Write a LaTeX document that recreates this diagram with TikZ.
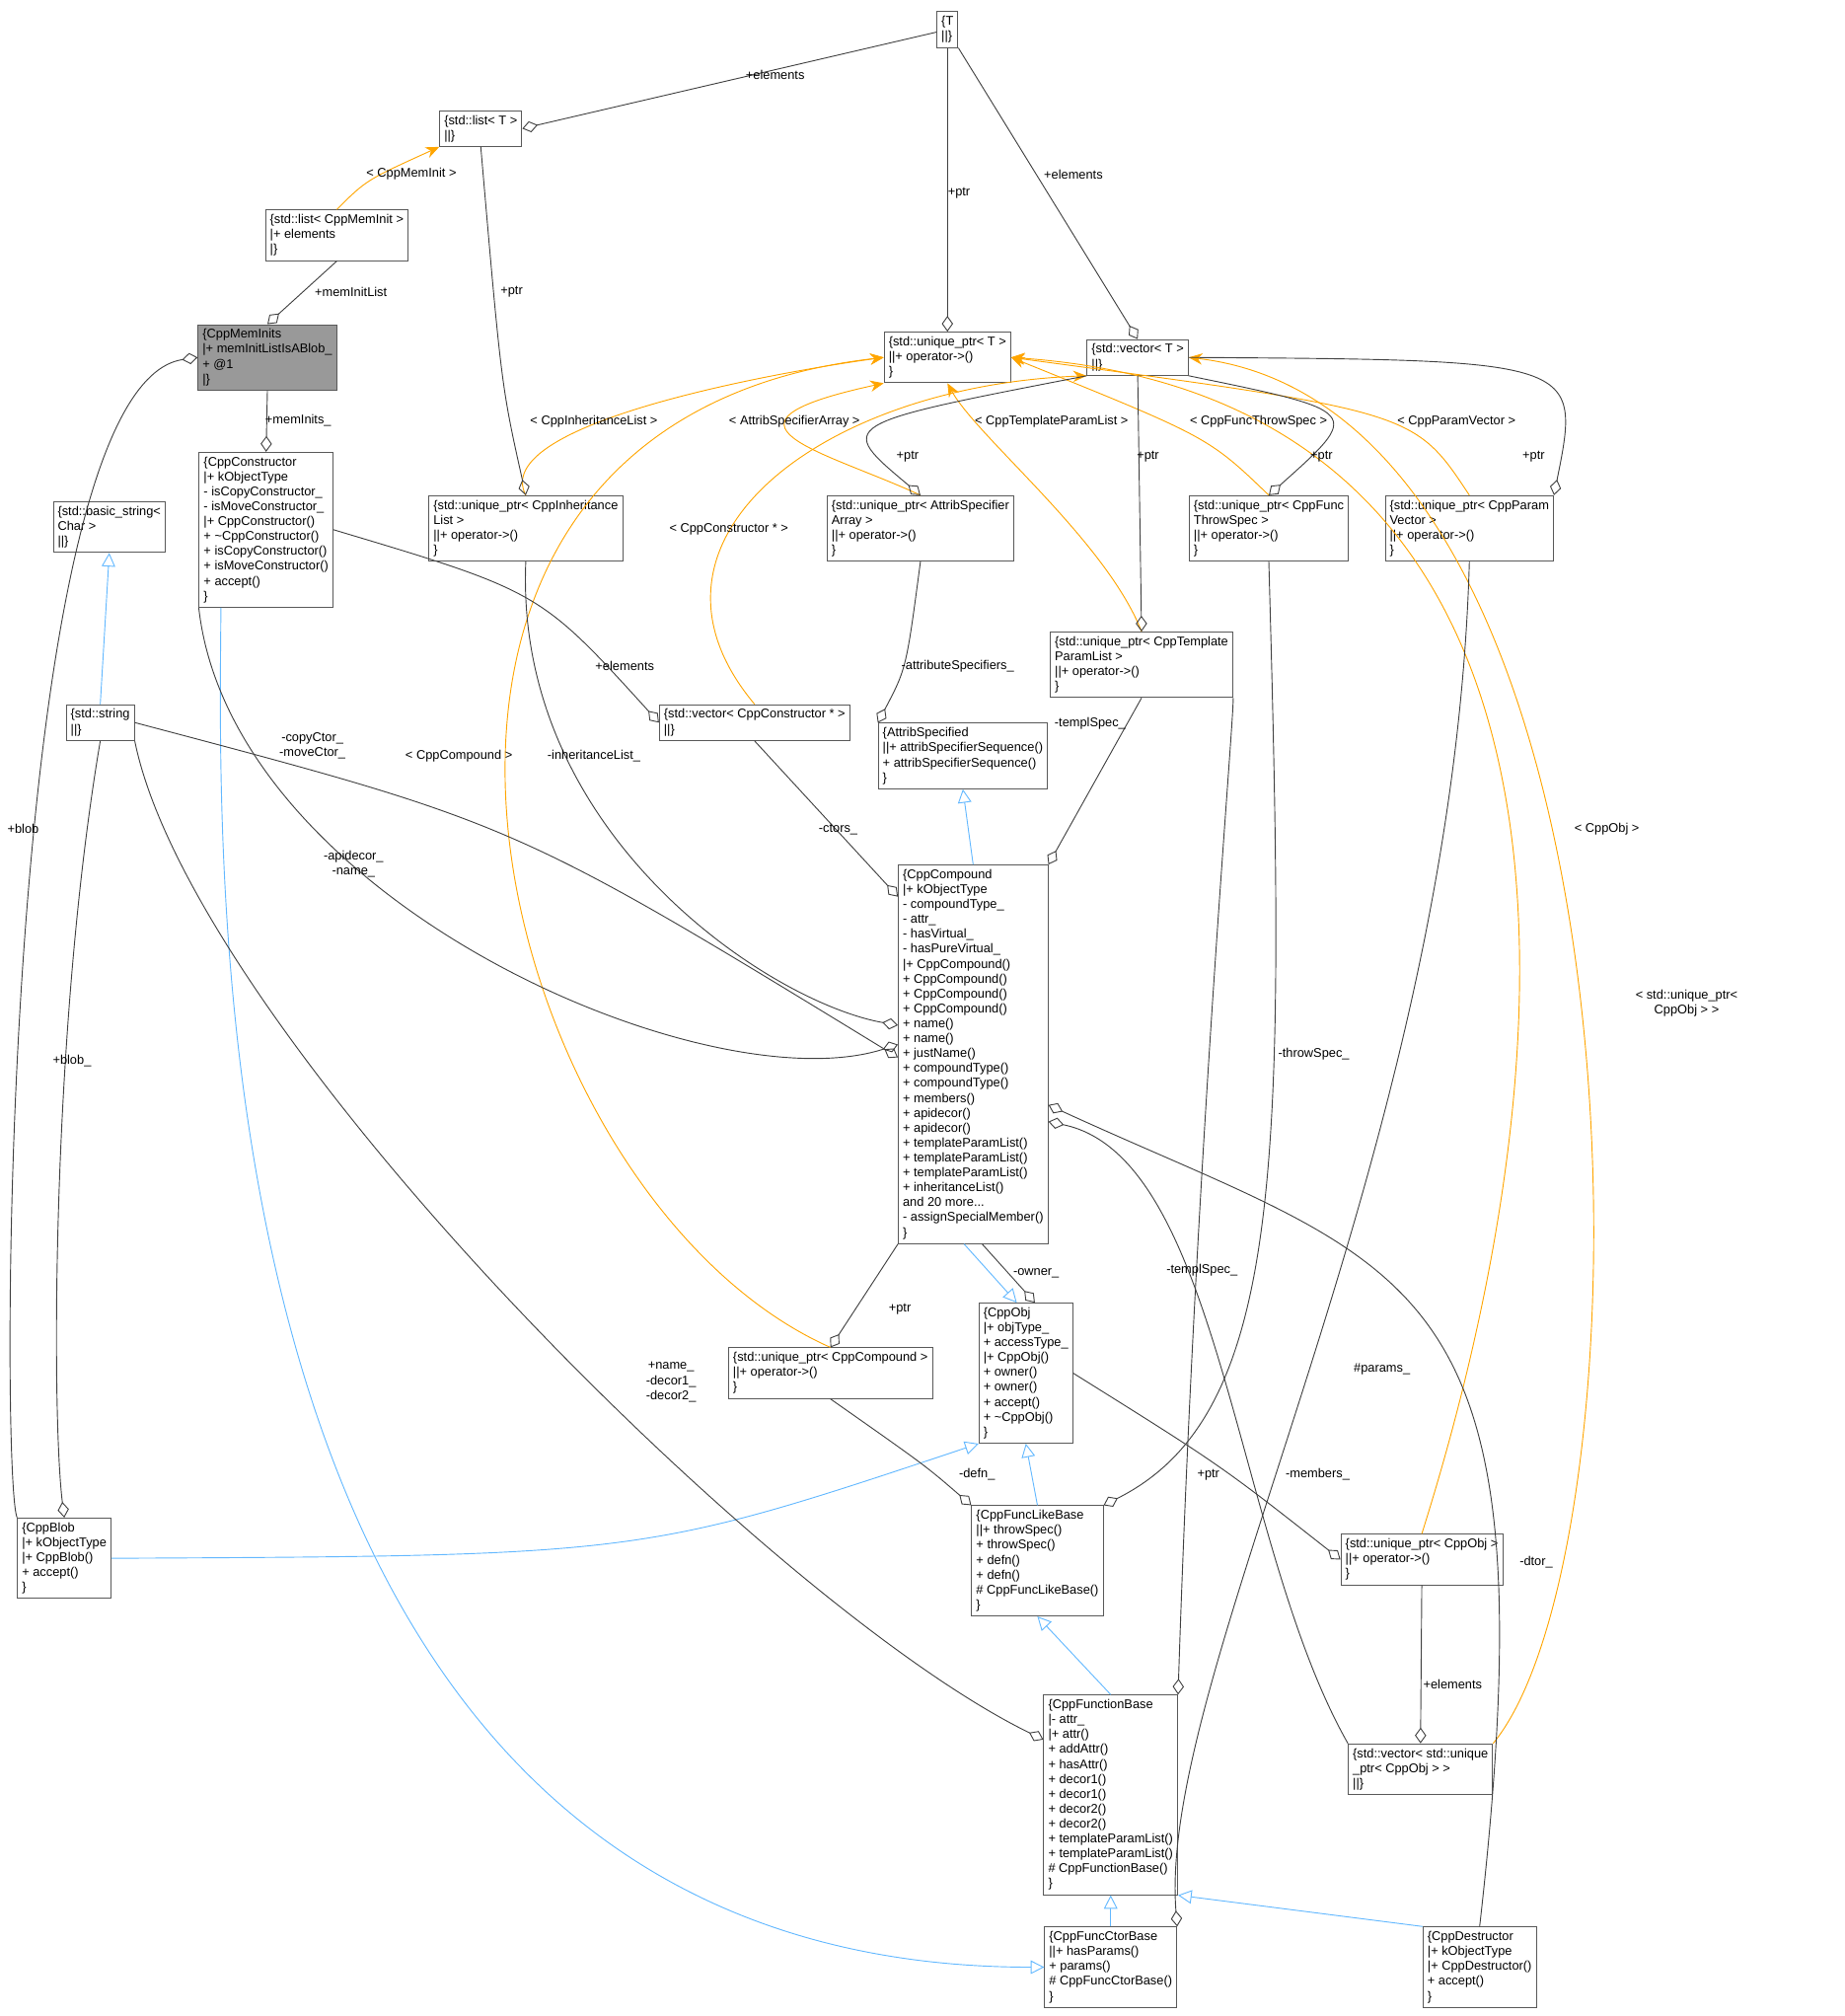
\documentclass[tikz,border=0pt]{standalone}
\usepackage{fontspec}
\setmainfont{Liberation Sans}
\usetikzlibrary{arrows.meta,calc}
\definecolor{tmplorange}{RGB}{255,165,0}
\definecolor{inhblue}{RGB}{99,184,255}
\tikzset{
  cls/.style={draw=black!65, fill=white, align=left, inner sep=2pt, font=\fontsize{5.6}{6.6}\selectfont},
  lbl/.style={font=\fontsize{5.6}{6.6}\selectfont, align=center, inner sep=1pt},
  agg/.style={draw=black!75, -{Diamond[open,length=7pt,width=5pt]}},
  tmpl/.style={draw=tmplorange, -{Stealth[length=6pt,width=5pt]}},
  inh/.style={draw=inhblue, -{Triangle[open,length=6pt,width=6pt]}}
}
\begin{document}
\begin{tikzpicture}[x=0.02cm,y=-0.02cm]
\useasboundingbox (0,0) rectangle (1435,1568);
% classes
\node[cls] (T) at (737,23) {\{T\\\textbar\textbar\}};
\node[cls] (lstT) at (374,100) {\{std::list< T >\\\textbar\textbar\}};
\node[cls] (lstMI) at (262,183) {\{std::list< CppMemInit >\\\textbar+ elements\\\textbar\}};
\node[cls, fill=black!40] (mis) at (208,278) {\{CppMemInits\\\textbar+ memInitListIsABlob\_\\+ @1\\\textbar\}};
\node[cls] (upT) at (737,278) {\{std::unique\_ptr< T >\\\textbar\textbar+ operator->()\\\}};
\node[cls] (vecT) at (885,278) {\{std::vector< T >\\\textbar\textbar\}};
\node[cls] (ctor) at (207,412) {\{CppConstructor\\\textbar+ kObjectType\\- isCopyConstructor\_\\- isMoveConstructor\_\\\textbar+ CppConstructor()\\+ \textasciitilde CppConstructor()\\+ isCopyConstructor()\\+ isMoveConstructor()\\+ accept()\\\}};
\node[cls] (bstr) at (85,410) {\{std::basic\_string<\\Char >\\\textbar\textbar\}};
\node[cls] (upIL) at (409,411) {\{std::unique\_ptr< CppInheritance\\List >\\\textbar\textbar+ operator->()\\\}};
\node[cls] (upAS) at (716,411) {\{std::unique\_ptr< AttribSpecifier\\Array >\\\textbar\textbar+ operator->()\\\}};
\node[cls] (upFT) at (987,411) {\{std::unique\_ptr< CppFunc\\ThrowSpec >\\\textbar\textbar+ operator->()\\\}};
\node[cls] (upPV) at (1143,411) {\{std::unique\_ptr< CppParam\\Vector >\\\textbar\textbar+ operator->()\\\}};
\node[cls] (upTPL) at (888,517) {\{std::unique\_ptr< CppTemplate\\ParamList >\\\textbar\textbar+ operator->()\\\}};
\node[cls] (str) at (78,562) {\{std::string\\\textbar\textbar\}};
\node[cls] (vecCC) at (587,562) {\{std::vector< CppConstructor * >\\\textbar\textbar\}};
\node[cls] (attr) at (749,588) {\{AttribSpecified\\\textbar\textbar+ attribSpecifierSequence()\\+ attribSpecifierSequence()\\\}};
\node[cls] (cmp) at (757,820) {\{CppCompound\\\textbar+ kObjectType\\- compoundType\_\\- attr\_\\- hasVirtual\_\\- hasPureVirtual\_\\\textbar+ CppCompound()\\+ CppCompound()\\+ CppCompound()\\+ CppCompound()\\+ name()\\+ name()\\+ justName()\\+ compoundType()\\+ compoundType()\\+ members()\\+ apidecor()\\+ apidecor()\\+ templateParamList()\\+ templateParamList()\\+ templateParamList()\\+ inheritanceList()\\and 20 more...\\- assignSpecialMember()\\\}};
\node[cls] (obj) at (798,1068) {\{CppObj\\\textbar+ objType\_\\+ accessType\_\\\textbar+ CppObj()\\+ owner()\\+ owner()\\+ accept()\\+ \textasciitilde CppObj()\\\}};
\node[cls] (upCmp) at (646,1068) {\{std::unique\_ptr< CppCompound >\\\textbar\textbar+ operator->()\\\}};
\node[cls] (blob) at (50,1212) {\{CppBlob\\\textbar+ kObjectType\\\textbar+ CppBlob()\\+ accept()\\\}};
\node[cls] (clb) at (807,1214) {\{CppFuncLikeBase\\\textbar\textbar+ throwSpec()\\+ throwSpec()\\+ defn()\\+ defn()\\\# CppFuncLikeBase()\\\}};
\node[cls] (upObj) at (1106,1213) {\{std::unique\_ptr< CppObj >\\\textbar\textbar+ operator->()\\\}};
\node[cls] (cfb) at (864,1396) {\{CppFunctionBase\\\textbar- attr\_\\\textbar+ attr()\\+ addAttr()\\+ hasAttr()\\+ decor1()\\+ decor1()\\+ decor2()\\+ decor2()\\+ templateParamList()\\+ templateParamList()\\\# CppFunctionBase()\\\}};
\node[cls] (vecUO) at (1105,1376) {\{std::vector< std::unique\\\_ptr< CppObj > >\\\textbar\textbar\}};
\node[cls] (cfc) at (864,1530) {\{CppFuncCtorBase\\\textbar\textbar+ hasParams()\\+ params()\\\# CppFuncCtorBase()\\\}};
\node[cls] (dtor) at (1151,1530) {\{CppDestructor\\\textbar+ kObjectType\\\textbar+ CppDestructor()\\+ accept()\\\}};
% inheritance
\draw[inh] (str.north) -- (bstr.south);
\draw[inh] (cmp.north) -- (attr.south);
\draw[inh] ([xshift=-4pt]cmp.south) -- ([xshift=-4pt]obj.north);
\draw[inh] (blob.east) .. controls (500,1210) .. (obj.south west);
\draw[inh] (clb.north) -- (obj.south);
\draw[inh] (cfb.north) -- (clb.south);
\draw[inh] (cfc.north) -- (cfb.south);
\draw[inh] (dtor.north west) -- (cfb.south east);
\draw[inh] ([xshift=-20pt]ctor.south) .. controls (170,700) and (150,1530) .. (cfc.west);
% templates
\draw[tmpl] (lstMI.north) .. controls (285,140) .. (lstT.south west);
\draw[tmpl] (upIL.north) .. controls (380,330) and (600,290) .. (upT.west);
\draw[tmpl] (upAS.north) .. controls (640,350) and (540,330) .. (upT.south west);
\draw[tmpl] (upTPL.north) .. controls (860,420) and (760,340) .. (upT.south);
\draw[tmpl] (upFT.north) .. controls (940,340) .. (upT.east);
\draw[tmpl] (upPV.north) .. controls (1100,320) .. (upT.east);
\draw[tmpl] (vecCC.north) .. controls (480,420) and (640,300) .. (vecT.south west);
\draw[tmpl] (upCmp.north) .. controls (380,930) and (230,330) .. (upT.west);
\draw[tmpl] (upObj.north) .. controls (1230,800) and (1250,310) .. (upT.east);
\draw[tmpl] (vecUO.north east) .. controls (1290,1200) and (1290,320) .. (vecT.east);
% members
\draw[agg] (T) -- (lstT.east);
\draw[agg] (T) -- (upT.north);
\draw[agg] (T.south east) -- (vecT.north);
\draw[agg] (lstMI.south) -- (mis.north);
\draw[agg] (lstT.south) .. controls (390,300) .. (upIL.north);
\draw[agg] (vecT.south west) .. controls (650,330) .. (upAS.north);
\draw[agg] (vecT.south) -- (upTPL.north);
\draw[agg] (vecT.south east) .. controls (1060,320) .. (upFT.north);
\draw[agg] (vecT.east) .. controls (1230,280) .. (upPV.north east);
\draw[agg] (mis.south) -- (ctor.north);
\draw[agg] (blob.north west) .. controls (0,1150) and (0,300) .. (mis.west);
\draw[agg] (str.south) .. controls (40,800) and (40,1100) .. (blob.north);
\draw[agg] (str.east) .. controls (400,640) .. ($(cmp.north west)+(0,150)$);
\draw[agg] (str.south east) .. controls (150,800) and (600,1250) .. ($(cfb.north west)+(0,35)$);
\draw[agg] (ctor.east) .. controls (420,460) .. (vecCC.west);
\draw[agg] (ctor.south west) .. controls (180,700) and (550,860) .. ($(cmp.north west)+(0,140)$);
\draw[agg] (upIL.south) .. controls (400,650) and (600,780) .. ($(cmp.north west)+(0,125)$);
\draw[agg] (upAS.south) .. controls (705,520) .. (attr.north west);
\draw[agg] (vecCC.south) -- ($(cmp.north west)+(0,25)$);
\draw[agg] (upTPL.south) -- (cmp.north east);
\draw[agg] (upTPL.south east) .. controls (960,560) and (930,900) .. (cfb.north east);
\draw[agg] (upFT.south) .. controls (1000,900) and (1000,1100) .. (clb.north east);
\draw[agg] (upPV.south) .. controls (1130,900) and (900,1300) .. (cfc.north east);
\draw[agg] (cmp.south west) -- (upCmp.north);
\draw[agg] ([xshift=4pt]cmp.south) -- ([xshift=4pt]obj.north);
\draw[agg] (obj.east) .. controls (950,1140) .. (upObj.west);
\draw[agg] (upCmp.south) .. controls (720,1140) .. (clb.north west);
\draw[agg] (upObj.south) -- (vecUO.north);
\draw[agg] (vecUO.north west) .. controls (960,1200) and (950,900) .. ($(cmp.north east)+(0,200)$);
\draw[agg] (dtor.north) .. controls (1210,980) and (1100,990) .. ($(cmp.north east)+(0,187)$);
% labels
\node[lbl] (l1) at (603,58) {+elements};
\node[lbl] (l2) at (746,150) {+ptr};
\node[lbl] (l3) at (835,136) {+elements};
\node[lbl] (l4) at (273,227) {+memInitList};
\node[lbl] (l5) at (398,227) {+ptr};
\node[lbl] (l6) at (320,135) {< CppMemInit >};
\node[lbl] (l7) at (462,328) {< CppInheritanceList >};
\node[lbl] (l8) at (618,328) {< AttribSpecifierArray >};
\node[lbl] (l9) at (706,355) {+ptr};
\node[lbl] (l10) at (818,328) {< CppTemplateParamList >};
\node[lbl] (l11) at (893,355) {+ptr};
\node[lbl] (l12) at (979,328) {< CppFuncThrowSpec >};
\node[lbl] (l13) at (1028,355) {+ptr};
\node[lbl] (l14) at (1133,328) {< CppParamVector >};
\node[lbl] (l15) at (1193,355) {+ptr};
\node[lbl] (l16) at (232,327) {+memInits\_};
\node[lbl] (l17) at (567,412) {< CppConstructor * >};
\node[lbl] (l18) at (486,518) {+elements};
\node[lbl] (l19) at (745,518) {-attributeSpecifiers\_};
\node[lbl] (l20) at (848,563) {-templSpec\_};
\node[lbl] (l21) at (243,580) {-copyCtor\_\\-moveCtor\_};
\node[lbl] (l22) at (357,588) {< CppCompound >};
\node[lbl] (l23) at (462,588) {-inheritanceList\_};
\node[lbl] (l24) at (275,672) {-apidecor\_\\-name\_};
\node[lbl] (l25) at (652,645) {-ctors\_};
\node[lbl] (l26) at (18,645) {+blob};
\node[lbl] (l27) at (1250,645) {< CppObj >};
\node[lbl] (l28) at (1312,780) {< std::unique\_ptr<\\CppObj > >};
\node[lbl] (l29) at (1022,820) {-throwSpec\_};
\node[lbl] (l30) at (56,825) {+blob\_};
\node[lbl] (l31) at (935,988) {-templSpec\_};
\node[lbl] (l32) at (806,990) {-owner\_};
\node[lbl] (l33) at (700,1018) {+ptr};
\node[lbl] (l34) at (1075,1065) {\#params\_};
\node[lbl] (l35) at (522,1075) {+name\_\\-decor1\_\\-decor2\_};
\node[lbl] (l36) at (760,1147) {-defn\_};
\node[lbl] (l37) at (940,1147) {+ptr};
\node[lbl] (l38) at (1025,1147) {-members\_};
\node[lbl] (l39) at (1195,1215) {-dtor\_};
\node[lbl] (l40) at (1130,1310) {+elements};
\end{tikzpicture}
\end{document}
